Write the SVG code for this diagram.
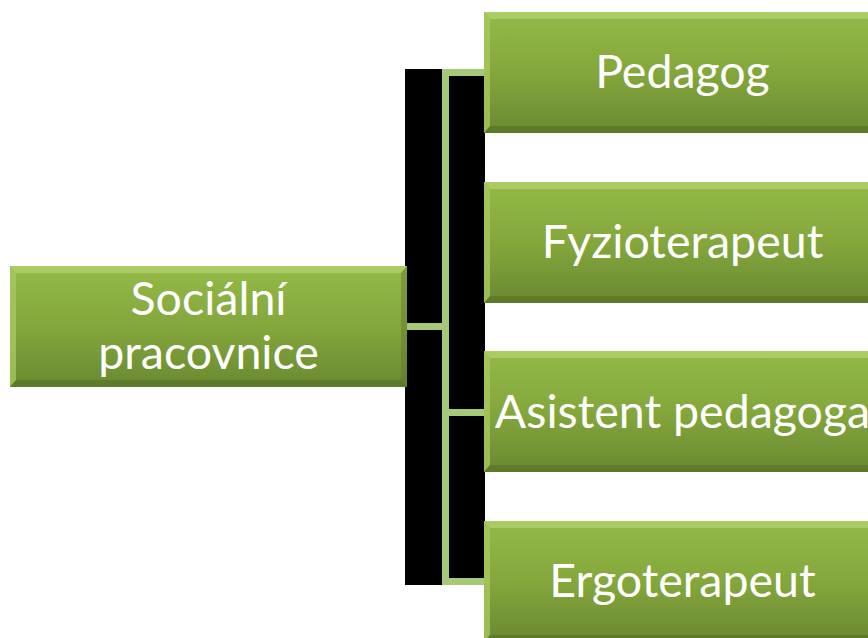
<svg xmlns="http://www.w3.org/2000/svg" xmlns:xlink="http://www.w3.org/1999/xlink" width="868" height="638" viewBox="0 0 868 638">
<style>
.lbl{font-family:Lato,"Liberation Sans",sans-serif;font-size:46.5px;fill:#ffffff;text-anchor:middle}
.conn{stroke:#a5c879;stroke-width:7;fill:none;stroke-linecap:square}
</style>
<defs>
<linearGradient id="face" x1="0" y1="0" x2="0" y2="1">
<stop offset="0" stop-color="#93ba48"/>
<stop offset="0.5" stop-color="#84a73c"/>
<stop offset="1" stop-color="#6a8931"/>
</linearGradient>
<g id="box">
<rect x="0" y="0" width="397" height="121" fill="url(#face)"/>
<polygon points="0,0 397,0 391,7 6,7" fill="#b3d36d" opacity="0.75"/>
<polygon points="0,0 6,7 6,114 0,121" fill="#a6c85e" opacity="0.8"/>
<polygon points="0,121 6,114 391,114 397,121" fill="#4f6a22" opacity="0.5"/>
<polygon points="397,0 391,7 391,114 397,121" fill="#56722a" opacity="0.4"/>
</g>
</defs>
<rect x="0" y="0" width="868" height="638" fill="#ffffff"/>
<g id="connectors">
<rect x="405" y="69" width="80" height="516" fill="#000000"/>
<path class="conn" d="M445.5,72.5 V581.5 M445.5,72.5 H484 M407,326.5 H445.5 M445.5,412.5 H484 M445.5,581.5 H484"/>
</g>
<g id="node-socialni">
<use xlink:href="#box" x="10" y="266"/>
<text class="lbl" x="208.5" y="315">Sociální</text>
<text class="lbl" x="208.5" y="369">pracovnice</text>
</g>
<g id="node-pedagog">
<use xlink:href="#box" x="484" y="12"/>
<text class="lbl" x="682.5" y="88">Pedagog</text>
</g>
<g id="node-fyzioterapeut">
<use xlink:href="#box" x="484" y="182"/>
<text class="lbl" x="682.5" y="258">Fyzioterapeut</text>
</g>
<g id="node-asistent">
<use xlink:href="#box" x="484" y="351"/>
<text class="lbl" x="682.5" y="428">Asistent pedagoga</text>
</g>
<g id="node-ergoterapeut">
<use xlink:href="#box" x="484" y="521"/>
<text class="lbl" x="682.5" y="597">Ergoterapeut</text>
</g>
</svg>
